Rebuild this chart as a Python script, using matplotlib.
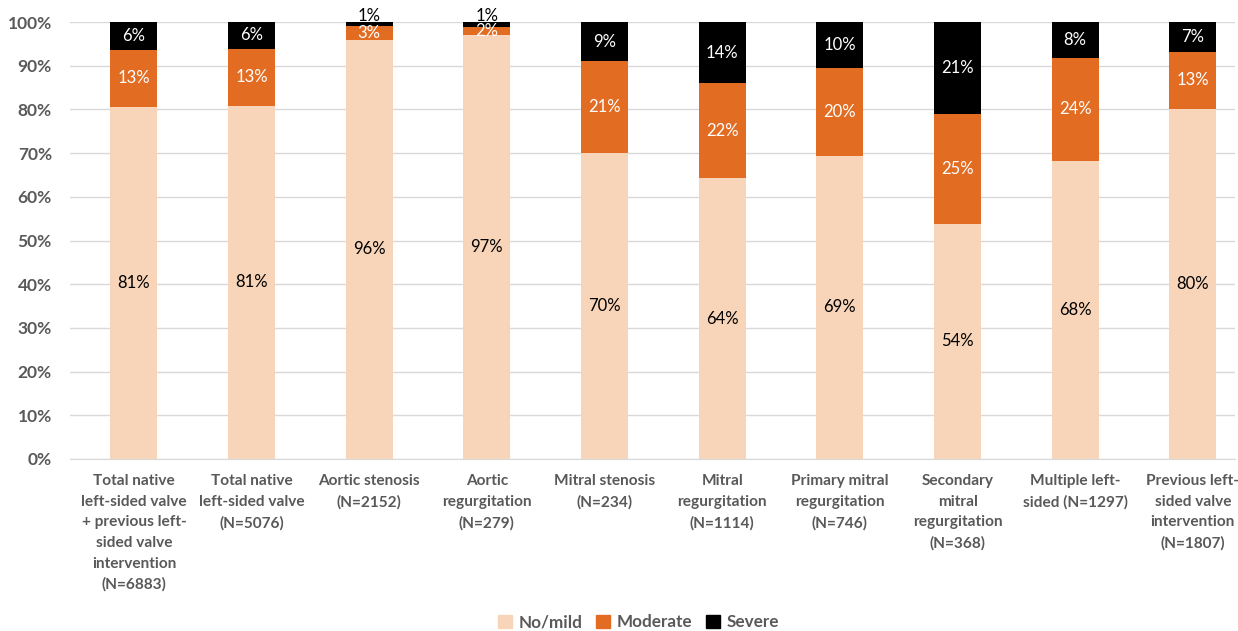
import numpy as np
import matplotlib.pyplot as plt
from matplotlib.patches import Patch

# категории и доли (%)
categories = [
    'Total native\nleft-sided valve\n+ previous left-\nsided valve\nintervention\n(N=6883)',
    'Total native\nleft-sided valve\n(N=5076)',
    'Aortic stenosis\n(N=2152)',
    'Aortic\nregurgitation\n(N=279)',
    'Mitral stenosis\n(N=234)',
    'Mitral\nregurgitation\n(N=1114)',
    'Primary mitral\nregurgitation\n(N=746)',
    'Secondary\nmitral\nregurgitation\n(N=368)',
    'Multiple left-\nsided (N=1297)',
    'Previous left-\nsided valve\nintervention\n(N=1807)',
]
no_mild = [80.6, 80.8, 95.9, 97.0, 70.1, 64.2, 69.4, 53.8, 68.3, 80.2]
moderate = [13.1, 13.1, 3.2, 1.8, 21.0, 21.8, 20.2, 25.2, 23.5, 13.0]
severe = [6.3, 6.1, 0.9, 1.2, 8.9, 14.0, 10.4, 21.0, 8.2, 6.8]

c_light = '#F8D5B8'
c_orange = '#E36C23'
c_black = '#000000'
grey = '#595959'

plt.rcParams['font.family'] = ['Lato', 'DejaVu Sans']

fig = plt.figure(figsize=(12.38, 6.31), dpi=100)
ax = fig.add_axes([0.0565, 0.2726, 0.941, 0.6924])

x = np.arange(len(categories))
w = 0.40
nm = np.array(no_mild)
md = np.array(moderate)
sv = np.array(severe)

ax.bar(x, nm, w, color=c_light, zorder=2)
ax.bar(x, md, w, bottom=nm, color=c_orange, zorder=2)
ax.bar(x, sv, w, bottom=nm + md, color=c_black, zorder=2)

for i in range(len(x)):
    ax.text(x[i], nm[i] / 2, '%d%%' % round(nm[i]), ha='center', va='center',
            fontsize=12, color='black')
    ax.text(x[i], nm[i] + md[i] / 2, '%d%%' % round(md[i]), ha='center', va='center',
            fontsize=12, color='white')
    if sv[i] < 3:
        ax.text(x[i], 101.4, '%d%%' % round(sv[i]), ha='center', va='center',
                fontsize=12, color='black', clip_on=False)
    else:
        ax.text(x[i], nm[i] + md[i] + sv[i] / 2, '%d%%' % round(sv[i]), ha='center',
                va='center', fontsize=12, color='white')

ax.set_ylim(0, 100)
ax.set_xlim(-0.544, 9.357)
ax.set_yticks(np.arange(0, 101, 10))
ax.set_yticklabels(['%d%%' % v for v in range(0, 101, 10)])
ax.set_xticks(x)
ax.set_xticklabels(categories)
ax.grid(axis='y', color='#D9D9D9', linewidth=1, zorder=0)
ax.set_axisbelow(True)
for s in ['top', 'right', 'left']:
    ax.spines[s].set_visible(False)
ax.spines['bottom'].set_color('#D9D9D9')
ax.tick_params(axis='both', length=0, colors=grey)
ax.tick_params(axis='x', pad=11, labelsize=11.1)
ax.tick_params(axis='y', pad=13, labelsize=12.5)
for lab in ax.get_xticklabels() + ax.get_yticklabels():
    lab.set_fontweight('bold')
    lab.set_linespacing(1.6)

handles = [Patch(color=c_light, label='No/mild'),
           Patch(color=c_orange, label='Moderate'),
           Patch(color=c_black, label='Severe')]
fig.legend(handles=handles, loc='center', bbox_to_anchor=(0.516, 0.014), ncol=3,
           frameon=False, handlelength=0.8, handleheight=0.8, handletextpad=0.4,
           columnspacing=0.8, prop={'size': 12.3, 'weight': 'bold'}, labelcolor=grey)

fig.savefig('out.png', dpi=100)
